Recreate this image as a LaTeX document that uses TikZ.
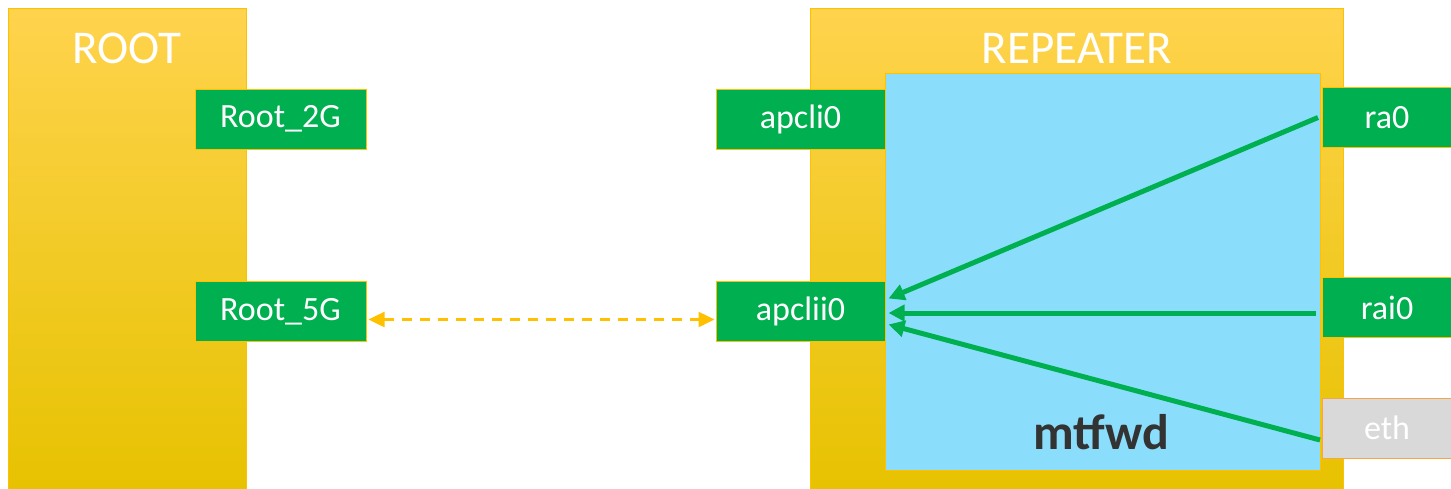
\documentclass[tikz,border=0pt]{standalone}
\usepackage{fontspec}
\setmainfont{Carlito}
\usetikzlibrary{arrows.meta}

\definecolor{goldtop}{HTML}{FFD34D}
\definecolor{goldmid}{HTML}{FFD100}
\definecolor{goldbot}{HTML}{E6C200}
\definecolor{goldline}{HTML}{FFC000}
\definecolor{ifgreen}{HTML}{00B050}
\definecolor{fwdblue}{HTML}{8ADEFC}
\definecolor{ethgray}{HTML}{D9D9D9}
\definecolor{ethline}{HTML}{F5A54A}
\definecolor{darktext}{HTML}{333333}

\tikzset{
  device/.style={draw=goldline, line width=1pt, top color=goldtop, middle color=goldmid,
    bottom color=goldbot, minimum width=#1, minimum height=487, inner sep=0pt},
  title/.style={text=white, font=\fontsize{47}{50}\selectfont},
  iface/.style={draw=goldline, line width=1pt, fill=ifgreen, text=white,
    minimum width=#1, minimum height=60, inner sep=0pt, font=\fontsize{34}{38}\selectfont},
  ethbox/.style={draw=ethline, line width=1pt, fill=ethgray, text=white,
    minimum width=148, minimum height=60, inner sep=0pt, font=\fontsize{34}{38}\selectfont},
  fwdbox/.style={draw=goldline, line width=1pt, fill=fwdblue, minimum width=435,
    minimum height=397, inner sep=0pt},
  fwdarrow/.style={draw=ifgreen, line width=5pt, -{Triangle[length=16pt,width=16pt]}},
  linkarrow/.style={draw=goldline, line width=2.5pt, dash pattern=on 10pt off 8pt,
    {Triangle[length=16pt,width=15pt]}-{Triangle[length=16pt,width=15pt]}},
}

\begin{document}
\begin{tikzpicture}[x=1pt, y=-1pt]
  \clip (0,0) rectangle (1451,488);

  % left device
  \node[device=238] (root) at (127,251.5) {};
  \node[title] (roottitle) at (127,48) {ROOT};
  \node[iface=171] (r2g) at (280.5,119) {Root\_2G};
  \node[iface=171] (r5g) at (280.5,311.5) {Root\_5G};

  % right device
  \node[device=533] (rep) at (1076.5,251.5) {};
  \node[title] (reptitle) at (1077,48) {REPEATER};
  \node[fwdbox] (fwd) at (1102.5,271.5) {};
  \node[font=\fontsize{50}{55}\selectfont\bfseries, text=darktext] (fwdlabel) at (1101,432) {mtfwd};

  \node[iface=169] (apcli) at (800.5,119) {apcli0};
  \node[iface=169] (apclii) at (800.5,311.5) {apclii0};
  \node[iface=148, anchor=west] (ra) at (1322,117.5) {\hspace*{-19pt}ra0};
  \node[iface=148, anchor=west] (rai) at (1322,307.5) {\hspace*{-19pt}rai0};
  \node[ethbox, anchor=west] (eth) at (1322,428) {\hspace*{-19pt}eth};

  % link between the 5G radios
  \draw[linkarrow] ([xshift=2pt,yshift=-8pt]r5g.east) -- ([xshift=-1pt,yshift=-8pt]apclii.west);

  % forwarding paths into apclii0
  \draw[fwdarrow] ([xshift=-4pt]ra.west) -- ([xshift=3pt,yshift=13pt]apclii.east);
  \draw[fwdarrow] ([xshift=-6pt,yshift=-1.5pt]rai.west |- apclii.east) -- ([xshift=3pt,yshift=-1.5pt]apclii.east);
  \draw[fwdarrow] ([xshift=-2pt,yshift=-12pt]eth.west) -- ([xshift=3pt,yshift=-13pt]apclii.east);
\end{tikzpicture}
\end{document}
